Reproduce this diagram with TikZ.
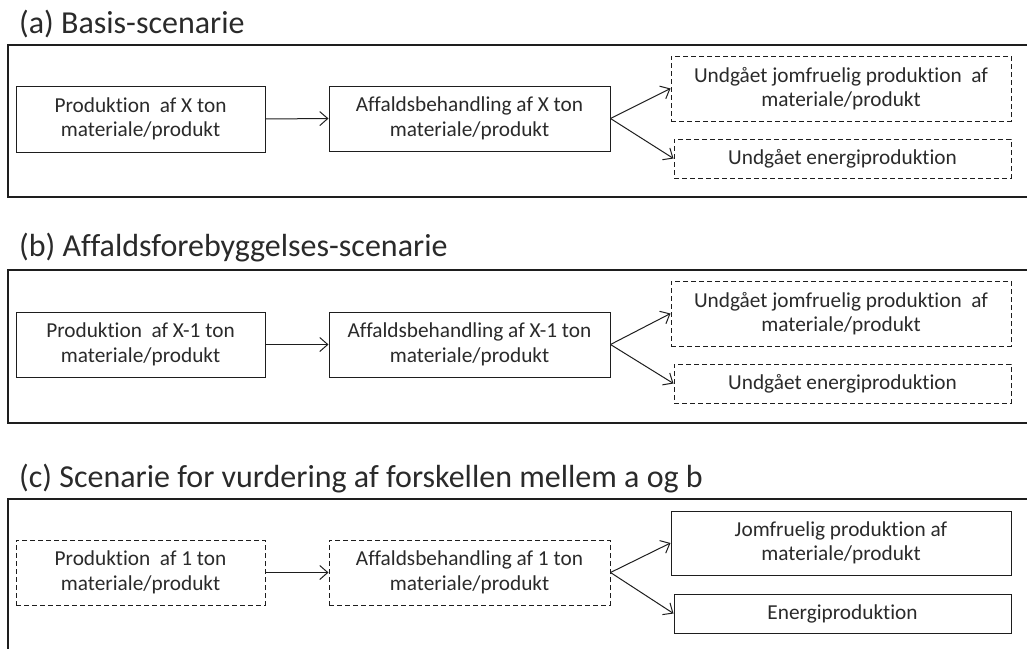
\documentclass[tikz,border=0pt]{standalone}
\usepackage{fontspec}
\setmainfont{Carlito}[Ligatures=NoCommon]
\usetikzlibrary{arrows.meta}
\definecolor{txt}{HTML}{2A2A2A}
\definecolor{ln}{HTML}{1E1E1E}
\tikzset{
  box/.style={draw=ln, line width=1pt, inner sep=0pt, align=center, text=txt,
    font=\fontsize{21.3}{24.5}\selectfont},
  solidbox/.style={box},
  dashbox/.style={box, dash pattern=on 5pt off 3pt},
  frame/.style={draw=ln, line width=2.4pt},
  ttl/.style={anchor=base west, inner sep=0pt, text=txt, font=\fontsize{32}{36}\selectfont},
  conn/.style={draw=ln, line width=1pt, -{Straight Barb[length=8pt,width=14pt,line width=1pt]}}
}
\begin{document}
\begin{tikzpicture}[x=1pt,y=-1pt]
\useasboundingbox (0,0) rectangle (1027,648);
\clip (0,0) rectangle (1027,648);
% ---------- (a)
\node[ttl] (ta) at (19,33) {(a) Basis-scenarie};
\draw[frame] (8,45) rectangle (1040,197);
\node[solidbox, minimum width=249pt, minimum height=66pt] (a1) at (140.5,119) {Produktion~ af X ton\\materiale/produkt};
\node[solidbox, minimum width=281pt, minimum height=65pt] (a2) at (469.5,118.5) {Affaldsbehandling af X ton\\materiale/produkt};
\node[dashbox, minimum width=340pt, minimum height=65pt] (a3) at (841,88.5) {Undgået jomfruelig produktion~ af\\materiale/produkt};
\node[dashbox, minimum width=337pt, minimum height=39pt] (a4) at (842.5,158.5) {Undgået energiproduktion};
\draw[conn] (a1.east) -- (a2.west);
\draw[conn] (a2.east) -- (a3.west);
\draw[conn] (a2.east) -- (a4.west);
% ---------- (b)
\node[ttl] (tb) at (19,256) {(b) Affaldsforebyggelses-scenarie};
\draw[frame] (8,270) rectangle (1040,423);
\node[solidbox, minimum width=249pt, minimum height=65pt] (b1) at (140.5,344.5) {Produktion~ af X-1 ton\\materiale/produkt};
\node[solidbox, minimum width=281pt, minimum height=65pt] (b2) at (469.5,344.5) {Affaldsbehandling af X-1 ton\\materiale/produkt};
\node[dashbox, minimum width=340pt, minimum height=65pt] (b3) at (841,313.5) {Undgået jomfruelig produktion~ af\\materiale/produkt};
\node[dashbox, minimum width=337pt, minimum height=39pt] (b4) at (842.5,383.5) {Undgået energiproduktion};
\draw[conn] (b1.east) -- (b2.west);
\draw[conn] (b2.east) -- (b3.west);
\draw[conn] (b2.east) -- (b4.west);
% ---------- (c)
\node[ttl] (tc) at (19,487) {(c) Scenarie for vurdering af forskellen mellem a og b};
\draw[frame] (8,499) rectangle (1040,660);
\node[dashbox, minimum width=249pt, minimum height=65pt] (c1) at (140.5,572.5) {Produktion~ af 1 ton\\materiale/produkt};
\node[dashbox, minimum width=281pt, minimum height=65pt] (c2) at (469.5,572.5) {Affaldsbehandling af 1 ton\\materiale/produkt};
\node[solidbox, minimum width=340pt, minimum height=64pt] (c3) at (841,543) {Jomfruelig produktion af\\materiale/produkt};
\node[solidbox, minimum width=337pt, minimum height=39pt] (c4) at (842.5,613.5) {Energiproduktion};
\draw[conn] (c1.east) -- (c2.west);
\draw[conn] (c2.east) -- (c3.west);
\draw[conn] (c2.east) -- (c4.west);
\end{tikzpicture}
\end{document}
